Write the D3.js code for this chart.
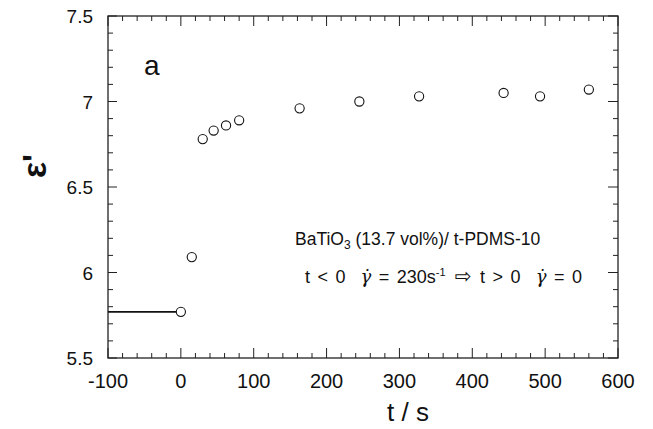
<!DOCTYPE html>
<html>
<head>
<meta charset="utf-8">
<script src="https://cdn.jsdelivr.net/npm/d3@7"></script>
<style>
  body { margin: 0; background: #fff; }
  text { font-family: "Liberation Sans", Arial, sans-serif; fill: #111; }
</style>
</head>
<body>
<script>
// data
const times = [0, 15, 30, 45, 62, 80, 163, 245, 327, 443, 493, 560];
const eps = [5.77, 6.09, 6.78, 6.83, 6.86, 6.89, 6.96, 7.0, 7.03, 7.05, 7.03, 7.07];
const preShear = [[-100, 5.77], [0, 5.77]];
const xTicks = [-100, 0, 100, 200, 300, 400, 500, 600];
const yTicks = [5.5, 6, 6.5, 7, 7.5];

const width = 653, height = 429;
const margin = {top: 16, right: 35, bottom: 71, left: 108};

const svg = d3.select('body')
  .append('svg')
  .attr('width', width)
  .attr('height', height);

const x = d3.scaleLinear()
  .domain([-100, 600])
  .range([margin.left, width - margin.right]);

const y = d3.scaleLinear()
  .domain([5.5, 7.5])
  .range([height - margin.bottom, margin.top]);

const x0 = x.range()[0], x1 = x.range()[1];
const y0 = y.range()[0], y1 = y.range()[1];

// minor ticks
const xMinor = d3.range(-100, 601, 20).filter(v => !xTicks.includes(v));
const yMinor = d3.range(55, 76, 1).map(v => v / 10).filter(v => !yTicks.includes(v));

const tickG = svg.append('g').attr('stroke', '#222').attr('stroke-width', 1);

// bottom + top ticks (inward)
xTicks.forEach(v => {
  tickG.append('line').attr('x1', x(v)).attr('x2', x(v)).attr('y1', y0).attr('y2', y0 - 10);
  tickG.append('line').attr('x1', x(v)).attr('x2', x(v)).attr('y1', y1).attr('y2', y1 + 10);
});
xMinor.forEach(v => {
  tickG.append('line').attr('x1', x(v)).attr('x2', x(v)).attr('y1', y0).attr('y2', y0 - 5);
  tickG.append('line').attr('x1', x(v)).attr('x2', x(v)).attr('y1', y1).attr('y2', y1 + 5);
});
// left + right ticks
yTicks.forEach(v => {
  tickG.append('line').attr('y1', y(v)).attr('y2', y(v)).attr('x1', x0).attr('x2', x0 + 9);
  tickG.append('line').attr('y1', y(v)).attr('y2', y(v)).attr('x1', x1).attr('x2', x1 - 10);
});
yMinor.forEach(v => {
  tickG.append('line').attr('y1', y(v)).attr('y2', y(v)).attr('x1', x0).attr('x2', x0 + 5);
  tickG.append('line').attr('y1', y(v)).attr('y2', y(v)).attr('x1', x1).attr('x2', x1 - 5);
});

// frame
svg.append('rect')
  .attr('x', x0).attr('y', y1)
  .attr('width', x1 - x0).attr('height', y0 - y1)
  .attr('fill', 'none')
  .attr('stroke', '#222')
  .attr('stroke-width', 1.3);

// tick labels
svg.append('g')
  .selectAll('text')
  .data(xTicks)
  .join('text')
  .attr('x', d => x(d))
  .attr('y', y0 + 30)
  .attr('text-anchor', 'middle')
  .style('font-size', '20px')
  .text(d => d);

svg.append('g')
  .selectAll('text')
  .data(yTicks)
  .join('text')
  .attr('x', x0 - 15)
  .attr('y', d => y(d) + 7)
  .attr('text-anchor', 'end')
  .style('font-size', '19px')
  .text(d => d3.format('~g')(d));

// axis titles
svg.append('text')
  .attr('x', 408)
  .attr('y', 421)
  .attr('text-anchor', 'middle')
  .style('font-size', '26px')
  .text('t / s');

svg.append('text')
  .attr('transform', 'translate(46,166) rotate(-90)')
  .attr('text-anchor', 'middle')
  .style('font-size', '34px')
  .style('font-weight', 'bold')
  .text("ε'");

svg.append('text')
  .attr('x', 144)
  .attr('y', 75)
  .style('font-size', '28px')
  .text('a');

// annotation
const note1 = svg.append('text')
  .attr('x', 295)
  .attr('y', 245)
  .style('font-size', '17.5px');
note1.append('tspan').text('BaTiO');
note1.append('tspan').attr('dy', 4).style('font-size', '12px').text('3');
note1.append('tspan').attr('dy', -4).text(' (13.7 vol%)/ t-PDMS-10');

const note2 = svg.append('text')
  .attr('x', 305)
  .attr('y', 283)
  .style('font-size', '18px')
  .style('word-spacing', '2.5px')
  .attr('xml:space', 'preserve');
note2.append('tspan').text('t < 0  ');
note2.append('tspan').style('font-style', 'italic').style('font-family', '"DejaVu Serif", serif').text('γ̇');
note2.append('tspan').text(' = 230s');
note2.append('tspan').attr('dy', -7).style('font-size', '11px').text('-1');
note2.append('tspan').attr('dy', 7).style('font-family', '"DejaVu Sans", sans-serif').style('font-size', '20px').text(' ⇨ ');
note2.append('tspan').text('t > 0  ');
note2.append('tspan').style('font-style', 'italic').style('font-family', '"DejaVu Serif", serif').text('γ̇');
note2.append('tspan').text(' = 0');

// steady shear line before t = 0
svg.append('path')
  .datum(preShear)
  .attr('d', d3.line().x(d => x(d[0])).y(d => y(d[1])))
  .attr('fill', 'none')
  .attr('stroke', '#111')
  .attr('stroke-width', 1.8);

// points
svg.append('g')
  .selectAll('circle')
  .data(times)
  .join('circle')
  .attr('cx', d => x(d))
  .attr('cy', (d, i) => y(eps[i]))
  .attr('r', 4.6)
  .attr('fill', '#fff')
  .attr('stroke', '#111')
  .attr('stroke-width', 1.1);
</script>
</body>
</html>
